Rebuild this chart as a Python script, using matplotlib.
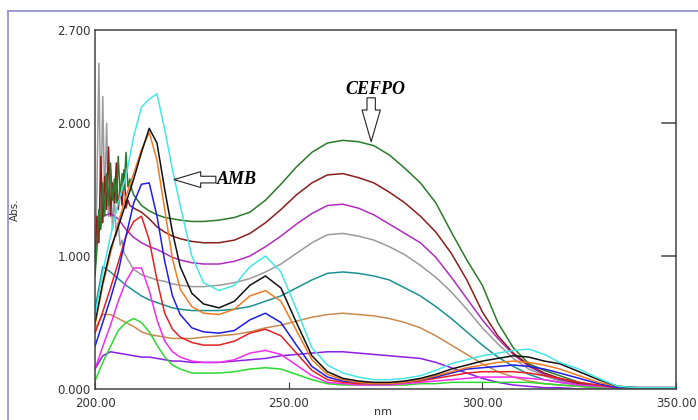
import matplotlib
matplotlib.use('Agg')
import matplotlib.pyplot as plt
from matplotlib.lines import Line2D
import numpy as np

# Wavelength grid (nm) shared by the smooth parts of the spectra
wl = [200, 202, 204, 206, 208, 210, 212, 214, 216, 218, 220, 222, 225, 228, 232,
      236, 240, 244, 248, 252, 256, 260, 264, 268, 272, 276, 280, 284, 288, 292,
      296, 300, 304, 308, 312, 316, 320, 325, 330, 335, 340, 350]

# AMB-rich spectra
cyan = [0.55, 0.88, 1.15, 1.40, 1.60, 1.90, 2.12, 2.18, 2.22, 1.95, 1.65, 1.38, 1.00, 0.80, 0.74,
        0.78, 0.92, 1.00, 0.88, 0.60, 0.31, 0.18, 0.12, 0.09, 0.07, 0.07, 0.08, 0.10, 0.14, 0.19,
        0.22, 0.25, 0.27, 0.29, 0.30, 0.26, 0.20, 0.15, 0.08, 0.02, 0.01, 0.01]
black = [0.50, 0.80, 1.05, 1.22, 1.40, 1.58, 1.78, 1.96, 1.85, 1.50, 1.18, 0.92, 0.72, 0.64, 0.61,
         0.66, 0.78, 0.85, 0.76, 0.50, 0.25, 0.13, 0.08, 0.06, 0.05, 0.05, 0.06, 0.08, 0.11, 0.15,
         0.18, 0.21, 0.23, 0.25, 0.24, 0.21, 0.19, 0.13, 0.07, 0.02, 0.01, 0.01]
orange = [0.48, 0.78, 1.02, 1.25, 1.45, 1.62, 1.80, 1.93, 1.72, 1.35, 0.98, 0.75, 0.62, 0.57, 0.56,
          0.60, 0.70, 0.74, 0.66, 0.44, 0.22, 0.11, 0.07, 0.05, 0.04, 0.04, 0.05, 0.07, 0.10, 0.13,
          0.16, 0.18, 0.20, 0.21, 0.20, 0.18, 0.15, 0.10, 0.05, 0.02, 0.01, 0.01]
blue = [0.32, 0.50, 0.68, 0.88, 1.15, 1.40, 1.54, 1.55, 1.30, 0.96, 0.70, 0.56, 0.46, 0.43, 0.42,
        0.44, 0.52, 0.57, 0.50, 0.33, 0.17, 0.09, 0.06, 0.05, 0.04, 0.04, 0.05, 0.07, 0.09, 0.12,
        0.15, 0.16, 0.17, 0.18, 0.17, 0.15, 0.12, 0.08, 0.04, 0.01, 0.01, 0.01]
red = [0.42, 0.58, 0.76, 0.95, 1.15, 1.26, 1.30, 1.12, 0.82, 0.57, 0.45, 0.39, 0.35, 0.33, 0.33,
       0.36, 0.42, 0.45, 0.40, 0.27, 0.14, 0.07, 0.05, 0.04, 0.04, 0.04, 0.05, 0.06, 0.08, 0.10,
       0.12, 0.13, 0.13, 0.13, 0.12, 0.10, 0.08, 0.05, 0.03, 0.01, 0.01, 0.01]
magenta = [0.15, 0.32, 0.48, 0.66, 0.81, 0.91, 0.91, 0.74, 0.52, 0.36, 0.28, 0.24, 0.21, 0.20, 0.20,
           0.22, 0.27, 0.29, 0.26, 0.18, 0.10, 0.05, 0.04, 0.03, 0.03, 0.03, 0.04, 0.05, 0.06, 0.07,
           0.08, 0.09, 0.09, 0.09, 0.08, 0.07, 0.05, 0.03, 0.02, 0.01, 0.01, 0.01]
lime = [0.06, 0.20, 0.32, 0.44, 0.50, 0.53, 0.50, 0.43, 0.33, 0.24, 0.18, 0.15, 0.12, 0.12, 0.12,
        0.13, 0.15, 0.16, 0.15, 0.11, 0.07, 0.04, 0.03, 0.03, 0.03, 0.03, 0.03, 0.04, 0.04, 0.05,
        0.05, 0.05, 0.05, 0.05, 0.05, 0.04, 0.03, 0.02, 0.01, 0.01, 0.01, 0.01]

# CEFPO-rich spectra
dviolet = [0.15, 0.25, 0.28, 0.27, 0.26, 0.25, 0.24, 0.24, 0.23, 0.22, 0.21, 0.21, 0.20, 0.20, 0.20,
           0.21, 0.22, 0.23, 0.25, 0.26, 0.27, 0.28, 0.28, 0.27, 0.26, 0.25, 0.24, 0.23, 0.20, 0.16,
           0.12, 0.08, 0.05, 0.03, 0.02, 0.01, 0.01, 0.00, 0.00, 0.00, 0.00, 0.00]
tan = [0.45, 0.56, 0.56, 0.53, 0.50, 0.47, 0.43, 0.41, 0.40, 0.39, 0.38, 0.38, 0.38, 0.39, 0.40,
       0.41, 0.43, 0.46, 0.48, 0.51, 0.54, 0.56, 0.57, 0.56, 0.55, 0.53, 0.50, 0.46, 0.40, 0.33,
       0.26, 0.19, 0.13, 0.09, 0.06, 0.04, 0.03, 0.02, 0.01, 0.01, 0.00, 0.00]
teal = [0.60, 0.92, 0.88, 0.83, 0.78, 0.74, 0.70, 0.67, 0.65, 0.63, 0.61, 0.60, 0.59, 0.59, 0.59,
        0.60, 0.62, 0.66, 0.70, 0.76, 0.82, 0.87, 0.88, 0.87, 0.85, 0.82, 0.76, 0.70, 0.62, 0.53,
        0.43, 0.33, 0.24, 0.17, 0.11, 0.07, 0.05, 0.03, 0.01, 0.01, 0.00, 0.00]
violet = [1.05, 1.30, 1.32, 1.28, 1.20, 1.14, 1.10, 1.07, 1.05, 1.02, 0.99, 0.97, 0.95, 0.94, 0.94,
          0.96, 1.00, 1.07, 1.15, 1.24, 1.32, 1.38, 1.39, 1.36, 1.31, 1.24, 1.17, 1.10, 0.99, 0.84,
          0.68, 0.52, 0.38, 0.26, 0.17, 0.11, 0.07, 0.04, 0.02, 0.01, 0.00, 0.00]

# these three start noisy below 210 nm: separate fine arrays
wl_fine = [200.0, 200.5, 201.0, 201.5, 202.0, 202.5, 203.0, 203.5, 204.0, 204.5,
           205.0, 205.5, 206.0, 206.5, 207.0, 207.5, 208.0, 208.5, 209.0, 209.5]
gray_fine = [0.90, 1.50, 2.45, 1.30, 2.20, 1.40, 2.00, 1.30, 1.65, 1.20,
             1.45, 1.15, 1.25, 1.08, 1.12, 1.02, 1.00, 0.97, 0.95, 0.92]
maroon_fine = [0.95, 1.30, 1.10, 1.75, 1.25, 1.60, 1.35, 1.82, 1.30, 1.55,
               1.40, 1.70, 1.35, 1.50, 1.38, 1.65, 1.36, 1.42, 1.38, 1.37]
dgreen_fine = [0.85, 1.05, 1.35, 1.20, 1.55, 1.30, 1.62, 1.38, 1.70, 1.42,
               1.58, 1.40, 1.75, 1.45, 1.62, 1.50, 1.78, 1.52, 1.58, 1.50]

gray = [0.90, 0.86, 0.84, 0.82, 0.81, 0.79, 0.78, 0.77, 0.77, 0.78,
        0.80, 0.83, 0.88, 0.94, 1.02, 1.10, 1.16, 1.17, 1.15, 1.12, 1.07, 1.01, 0.93, 0.84, 0.73,
        0.60, 0.46, 0.34, 0.23, 0.15, 0.10, 0.06, 0.03, 0.02, 0.01, 0.00, 0.00]
maroon = [1.36, 1.33, 1.28, 1.22, 1.18, 1.15, 1.13, 1.11, 1.10, 1.10,
          1.12, 1.17, 1.25, 1.35, 1.46, 1.55, 1.61, 1.62, 1.59, 1.55, 1.48, 1.40, 1.30, 1.18, 1.02,
          0.82, 0.58, 0.40, 0.27, 0.18, 0.12, 0.08, 0.04, 0.02, 0.01, 0.00, 0.00]
dgreen = [1.46, 1.38, 1.34, 1.31, 1.29, 1.28, 1.27, 1.26, 1.26, 1.27,
          1.29, 1.33, 1.42, 1.54, 1.67, 1.78, 1.85, 1.87, 1.86, 1.83, 1.76, 1.66, 1.55, 1.40, 1.18,
          0.97, 0.78, 0.50, 0.31, 0.19, 0.14, 0.10, 0.05, 0.02, 0.01, 0.00, 0.00]

fig = plt.figure(figsize=(6.98, 4.2), dpi=100)
ax = fig.add_axes([95 / 698, 1 - 389 / 420, 581 / 698, 359 / 420])

wl = np.array(wl)
wl_main = wl[wl >= 210]

# draw CEFPO-type first, AMB-type on top
ax.plot(wl_fine + list(wl_main), gray_fine + gray, color='#9a9a9a', lw=1.1)
ax.plot(wl, dviolet, color='#8c1ee6', lw=1.1)
ax.plot(wl, tan, color='#c98a4e', lw=1.1)
ax.plot(wl, teal, color='#1c9090', lw=1.1)
ax.plot(wl, violet, color='#b02cc0', lw=1.1)
ax.plot(wl_fine + list(wl_main), maroon_fine + maroon, color='#8b1c1c', lw=1.1)
ax.plot(wl_fine + list(wl_main), dgreen_fine + dgreen, color='#2a7a2a', lw=1.1)
ax.plot(wl, lime, color='#2ed82e', lw=1.1)
ax.plot(wl, magenta, color='#f22cf0', lw=1.1)
ax.plot(wl, red, color='#e62020', lw=1.1)
ax.plot(wl, blue, color='#1e1ee6', lw=1.1)
ax.plot(wl, orange, color='#f27a22', lw=1.1)
ax.plot(wl, black, color='#111111', lw=1.1)
ax.plot(wl, cyan, color='#44e6e6', lw=1.1)

ax.set_xlim(200, 350)
ax.set_ylim(0, 2.7)
ax.set_xticks([200, 250, 300, 350])
ax.set_xticklabels(['200.00', '250.00', '300.00', '350.00'])
ax.set_yticks([0, 1, 2, 2.7])
ax.set_yticklabels(['0.000', '1.000', '2.000', '2.700'])
ax.tick_params(axis='both', labelsize=8.5, labelcolor='#333333', color='#333333')
ax.tick_params(axis='x', direction='in', length=5, pad=6)
ax.tick_params(axis='y', length=0, pad=3)
for s in ax.spines.values():
    s.set_color('#444444')
    s.set_linewidth(1.1)

# inward ticks on the right spine
for yv in [1, 2]:
    ax.plot([346.5, 350], [yv, yv], color='#444444', lw=1.1, clip_on=False)

# annotations
afont = dict(family='Liberation Serif', style='italic', weight='bold', size=13)
ax.text(231.5, 1.575, 'AMB', va='center', ha='left', **afont)
ax.annotate('', xy=(220.4, 1.575), xytext=(231.2, 1.575),
            arrowprops=dict(arrowstyle='simple,head_length=1.6,head_width=0.95,tail_width=0.4',
                            fc='white', ec='#222222', lw=0.8, shrinkA=0, shrinkB=0,
                            mutation_scale=12))
ax.text(272.3, 2.25, 'CEFPO', va='center', ha='center', **afont)
ax.annotate('', xy=(271.3, 1.86), xytext=(271.3, 2.19),
            arrowprops=dict(arrowstyle='simple,head_length=1.9,head_width=1.1,tail_width=0.5',
                            fc='white', ec='#222222', lw=0.8, shrinkA=0, shrinkB=0,
                            mutation_scale=12))

fig.text(15 / 698, 1 - 210 / 420, 'Abs.', rotation=90, va='center', ha='center',
         fontsize=7.5, color='#333333')
fig.text(383 / 698, 1 - 407 / 420, 'nm', va='top', ha='center', fontsize=8, color='#333333')

# outer frame of the screenshot
fcol = '#9c9cd4'
fig.add_artist(Line2D([8 / 698, 8 / 698], [0, 1 - 11 / 420], color=fcol, lw=1.4))
fig.add_artist(Line2D([8 / 698, 1], [1 - 11 / 420, 1 - 11 / 420], color=fcol, lw=1.4))

fig.savefig('out.png', dpi=100)
